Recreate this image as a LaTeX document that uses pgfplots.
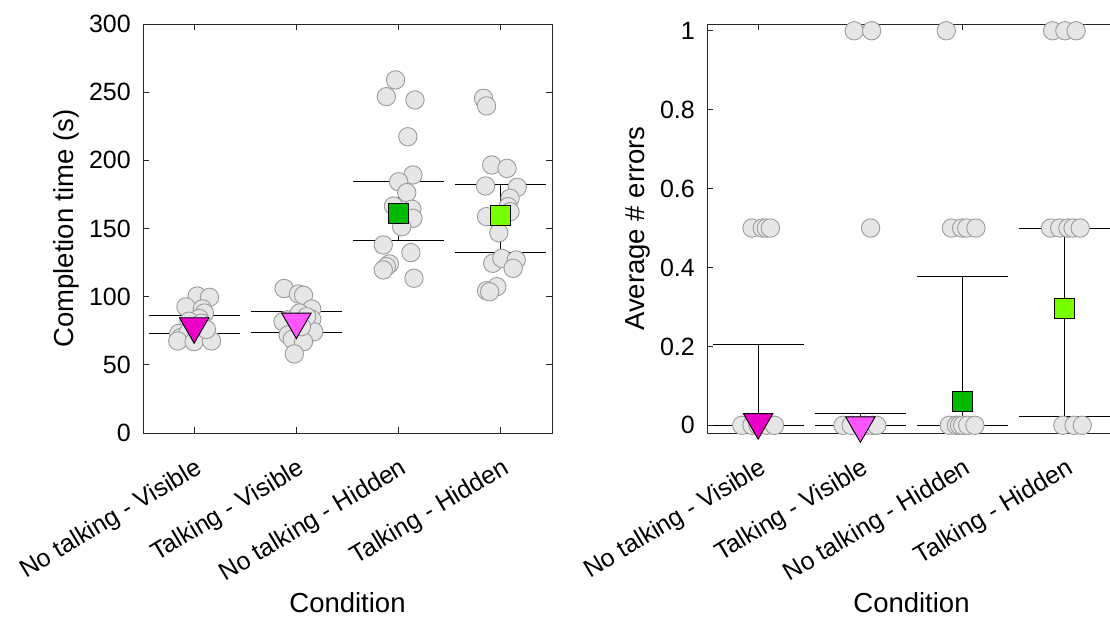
\documentclass[border=0pt]{standalone}
\usepackage{fontspec}
\setmainfont{Liberation Sans}
\usepackage{pgfplots}
\pgfplotsset{compat=1.18}
\definecolor{mA}{RGB}{235,0,200}
\definecolor{mB}{RGB}{255,85,255}
\definecolor{gA}{RGB}{0,187,0}
\definecolor{gB}{RGB}{119,255,0}
\definecolor{ptfill}{RGB}{230,230,230}
\definecolor{ptedge}{RGB}{155,155,155}
\pgfplotsset{
  myax/.style={
    scale only axis, width=409pt, height=409pt, anchor=south west,
    xmin=0.5, xmax=4.5, xtick={1,2,3,4},
    xticklabels={No talking - Visible, Talking - Visible, No talking - Hidden, Talking - Hidden},
    tick align=inside, major tick length=6pt,
    xtick pos=both, ytick pos=both, xticklabel pos=lower, yticklabel pos=left,
    axis line style={line width=0.9pt, black!85},
    every tick/.style={line width=0.9pt, black!85},
    tick label style={font=\fontsize{25}{30}\selectfont},
    yticklabel style={inner sep=0pt, xshift=-12pt},
    xticklabel style={rotate=31, anchor=north east, inner sep=0pt, yshift=-20pt, xshift=-12pt},
    label style={font=\fontsize{27.5}{33}\selectfont},
    xlabel style={at={(axis description cs:0.5,-0.44)}, anchor=base},
    clip=false,
    unbounded coords=jump,
  },
  pts/.style={only marks, mark=*, mark size=9.2pt, mark options={fill=ptfill, draw=ptedge, line width=0.9pt}},
  eb/.style={black, line width=0.9pt},
}
\pgfplotstableread{
x y
1.03 100.5
1.15 99.5
0.92 92.5
1.08 91
1.10 88
1.05 84
0.95 82
1.07 80.5
0.85 73
0.87 70
0.94 73.5
0.84 67.5
1.00 67
1.17 67.5
1.12 76
1.88 106
2.02 102
2.07 101
2.15 91
1.91 83
1.87 81.6
2.15 83.4
2.17 74.3
1.92 71.9
1.96 68.7
2.07 67
1.98 58
2.03 88
2.10 85.3
2.05 78
2.97 259
2.88 246.7
3.16 244.3
3.09 217.3
3.14 189.3
3.00 184.3
3.08 176.3
2.95 166.5
3.13 164.1
3.14 157.5
3.03 151.3
2.85 137.9
3.12 132.3
2.91 124
2.88 122
2.85 119.6
3.15 113.5
3.83 245.5
3.86 239.9
3.91 196.6
4.06 194.1
3.85 181.2
4.16 180.2
4.09 172.2
4.07 166
4.09 162.3
3.86 158.7
3.98 146.9
3.92 124.5
4.01 128.1
4.15 126.9
4.12 120.8
3.96 107.3
3.86 104.4
3.89 103.6
}\timedata
\pgfplotstableread{
x y
0.94 0.5
1.04 0.5
1.08 0.5
1.12 0.5
0.84 0
0.94 0
1.00 0
1.085 0
1.16 0
1.94 1
2.11 1
2.10 0.5
1.83 0
1.91 0
2.00 0
2.05 0
2.12 0
2.16 0
2.84 1
2.89 0.5
2.99 0.5
3.04 0.5
3.13 0.5
2.87 0
2.94 0
2.97 0
3.00 0
3.05 0
3.12 0
3.88 1
4.00 1
4.11 1
3.86 0.5
3.95 0.5
4.03 0.5
4.08 0.5
4.15 0.5
3.98 0
4.09 0
4.17 0
}\errdata
\begin{document}
\begin{tikzpicture}[x=1pt,y=1pt]
\useasboundingbox (0,0) rectangle (1110,618);
\begin{axis}[myax, at={(143pt,185pt)},
  ymin=0, ymax=300, ytick={0,50,100,150,200,250,300},
  yticklabels={0,50,100,150,200,250,300},
  xlabel={Condition}, ylabel={Completion time (s)},
  ylabel style={at={(axis description cs:-0.171,0.5)}, anchor=base, rotate=0},
]
\addplot[pts] table[x=x,y=y] {\timedata};
% error bars (caps and stems)
\addplot[eb] coordinates {(0.555,73.1) (1.445,73.1) (nan,nan) (0.555,86.0) (1.445,86.0) (nan,nan) (1,73.1) (1,86.0)};
\addplot[eb] coordinates {(1.555,73.9) (2.445,73.9) (nan,nan) (1.555,89.0) (2.445,89.0) (nan,nan) (2,73.9) (2,89.0)};
\addplot[eb] coordinates {(2.555,141.1) (3.445,141.1) (nan,nan) (2.555,184.8) (3.445,184.8) (nan,nan) (3,141.1) (3,184.8)};
\addplot[eb] coordinates {(3.555,132.3) (4.445,132.3) (nan,nan) (3.555,182.2) (4.445,182.2) (nan,nan) (4,132.3) (4,182.2)};
% means
\addplot[only marks, mark=triangle*, mark size=17pt, mark options={rotate=180, fill=mA, draw=black, line width=0.9pt}] coordinates {(1,78.3)};
\addplot[only marks, mark=triangle*, mark size=17pt, mark options={rotate=180, fill=mB, draw=black, line width=0.9pt}] coordinates {(2,81.7)};
\addplot[only marks, mark=square*, mark size=10pt, mark options={fill=gA, draw=black, line width=0.9pt}] coordinates {(3,161.2)};
\addplot[only marks, mark=square*, mark size=10pt, mark options={fill=gB, draw=black, line width=0.9pt}] coordinates {(4,159.9)};
\end{axis}
\begin{axis}[myax, at={(707pt,185pt)},
  ymin=-0.0195, ymax=1.0172, ytick={0,0.2,0.4,0.6,0.8,1},
  yticklabels={0,0.2,0.4,0.6,0.8,1},
  xlabel={Condition}, ylabel={Average \# errors},
  ylabel style={at={(axis description cs:-0.152,0.5)}, anchor=base, rotate=0},
]
\addplot[pts] table[x=x,y=y] {\errdata};
\addplot[eb] coordinates {(0.555,0) (1.445,0) (nan,nan) (0.555,0.204) (1.445,0.204) (nan,nan) (1,0) (1,0.204)};
\addplot[eb] coordinates {(1.555,0) (2.445,0) (nan,nan) (1.555,0.030) (2.445,0.030) (nan,nan) (2,0) (2,0.030)};
\addplot[eb] coordinates {(2.555,0) (3.445,0) (nan,nan) (2.555,0.378) (3.445,0.378) (nan,nan) (3,0) (3,0.378)};
\addplot[eb] coordinates {(3.555,0.0236) (4.445,0.0236) (nan,nan) (3.555,0.5) (4.445,0.5) (nan,nan) (4,0.0236) (4,0.5)};
\addplot[only marks, mark=triangle*, mark size=17pt, mark options={rotate=180, fill=mA, draw=black, line width=0.9pt}] coordinates {(1,0.008)};
\addplot[only marks, mark=triangle*, mark size=17pt, mark options={rotate=180, fill=mB, draw=black, line width=0.9pt}] coordinates {(2,0.0)};
\addplot[only marks, mark=square*, mark size=10pt, mark options={fill=gA, draw=black, line width=0.9pt}] coordinates {(3,0.060)};
\addplot[only marks, mark=square*, mark size=10pt, mark options={fill=gB, draw=black, line width=0.9pt}] coordinates {(4,0.297)};
\end{axis}
\end{tikzpicture}
\end{document}
